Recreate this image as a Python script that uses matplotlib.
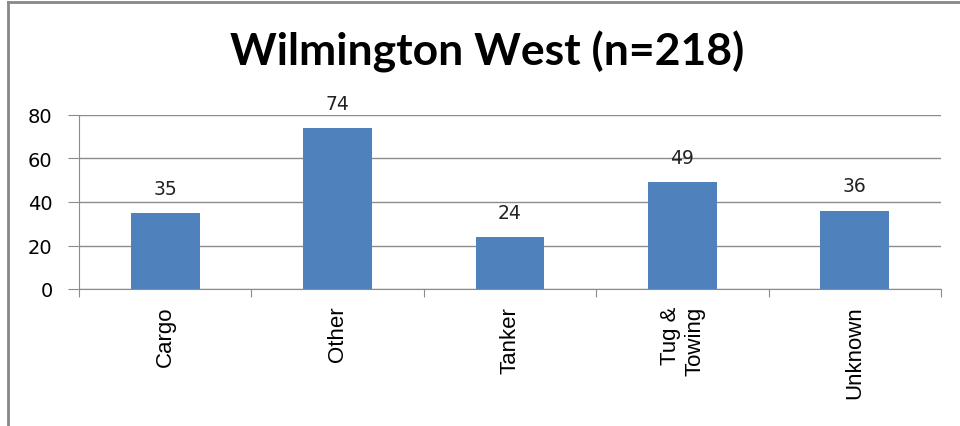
import matplotlib
matplotlib.use('Agg')
import matplotlib.pyplot as plt
from matplotlib.lines import Line2D

plt.rcParams['font.family'] = ['Lato', 'DejaVu Sans']

categories = ['Cargo', 'Other', 'Tanker', 'Tug &\nTowing', 'Unknown']
counts = [35, 74, 24, 49, 36]
title = 'Wilmington West (n=218)'

W, H = 960, 427
fig = plt.figure(figsize=(W / 100, H / 100), dpi=100)
ax = fig.add_axes([79 / W, 1 - 290 / H, (941 - 79) / W, (290 - 116) / H])

x = list(range(len(categories)))
bars = ax.bar(x, counts, width=0.4, color='#4F81BD', zorder=3)
for b, v in zip(bars, counts):
    ax.annotate(str(v), (b.get_x() + b.get_width() / 2, v), xytext=(0, 11),
                textcoords='offset points', ha='center', va='bottom',
                fontsize=13.5, family='DejaVu Sans', color='#222222')

ax.set_xlim(-0.5, len(categories) - 0.5)
ax.set_ylim(0, 80)
ax.set_yticks([0, 20, 40, 60, 80])
ax.yaxis.grid(True, color='#8c8c8c', linewidth=1, zorder=0)
for s in ['top', 'right']:
    ax.spines[s].set_visible(False)
for s in ['left', 'bottom']:
    ax.spines[s].set_color('#8c8c8c')

ax.set_xticks([i - 0.5 for i in range(len(categories) + 1)], minor=False)
ax.set_xticklabels([])
ax.set_xticks(x, minor=True)
ax.set_xticklabels(categories, minor=True, rotation=90, fontsize=16, va='top', ha='center',
                   family='Liberation Sans', multialignment='right')
ax.tick_params(axis='x', which='major', length=6, color='#8c8c8c', direction='out')
ax.tick_params(axis='x', which='minor', length=0, pad=12)
ax.tick_params(axis='y', length=8, color='#8c8c8c', labelsize=14, pad=11)
for lab in ax.get_yticklabels():
    lab.set_family('DejaVu Sans')

fig.text(487 / W, 1 - 52 / H, title, ha='center', va='center', fontsize=32, fontweight='bold')

# chart frame
fig.add_artist(Line2D([8 / W, 1], [1 - 3 / H, 1 - 3 / H], color='#888888', linewidth=2))
fig.add_artist(Line2D([8 / W, 8 / W], [0, 1 - 3 / H], color='#888888', linewidth=2))

fig.savefig('out.png', dpi=100)
